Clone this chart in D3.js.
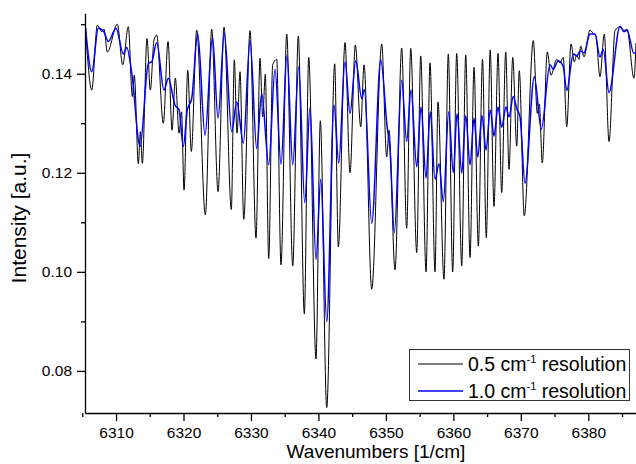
<!DOCTYPE html>
<html><head><meta charset="utf-8">
<script src="https://cdn.jsdelivr.net/npm/d3@7/dist/d3.min.js"></script>
<style>
html,body{margin:0;padding:0;background:#fff;}
svg{display:block;font-family:"Liberation Sans",Arial,sans-serif;}
</style></head>
<body><svg id="c" width="636" height="464"></svg>
<script>
// ---- data ----
const waveBlack = [6305.48,6306.40,6307.23,6307.88,6308.22,6308.71,6310.19,6310.99,6311.82,6312.42,6312.71,6313.31,6313.60,6313.90,6314.59,6315.08,6315.63,6316.03,6317.01,6317.71,6318.30,6318.79,6319.34,6319.71,6320.08,6320.63,6321.16,6321.96,6323.24,6324.18,6325.12,6326.01,6327.09,6327.53,6327.93,6328.38,6328.93,6329.86,6330.75,6331.34,6331.74,6332.13,6332.63,6333.22,6333.82,6334.45,6335.30,6336.19,6337.02,6337.91,6338.56,6339.64,6340.28,6341.23,6342.41,6342.95,6343.94,6344.68,6345.47,6346.27,6346.76,6347.90,6349.38,6350.12,6350.46,6351.35,6352.34,6353.08,6353.68,6354.57,6355.16,6355.95,6356.54,6357.28,6357.72,6358.61,6359.25,6359.90,6360.49,6361.24,6361.83,6362.47,6363.06,6363.70,6364.32,6364.88,6365.46,6366.02,6366.62,6367.16,6367.76,6368.25,6368.80,6369.39,6369.77,6370.51,6371.85,6372.44,6372.74,6373.18,6373.92,6374.47,6375.32,6375.80,6376.29,6376.80,6377.44,6377.93,6378.28,6378.62,6378.87,6379.36,6380.25,6380.70,6381.14,6381.73,6382.37,6383.07,6383.96,6384.70,6385.29,6385.74,6386.77,6387.07];
const intBlack = [0.1494,0.1367,0.1498,0.1485,0.1490,0.1444,0.1500,0.1418,0.1495,0.1354,0.1397,0.1218,0.1283,0.1219,0.1471,0.1367,0.1468,0.1478,0.1300,0.1465,0.1286,0.1391,0.1280,0.1323,0.1165,0.1407,0.1243,0.1488,0.1115,0.1490,0.1162,0.1494,0.1126,0.1428,0.1280,0.1404,0.1106,0.1487,0.1068,0.1431,0.1313,0.1399,0.1027,0.1418,0.1429,0.1014,0.1480,0.1012,0.1476,0.0915,0.1433,0.0824,0.1305,0.0726,0.1420,0.1050,0.1463,0.1200,0.1458,0.1293,0.1418,0.0965,0.1460,0.1232,0.1286,0.1004,0.1452,0.1088,0.1451,0.1039,0.1436,0.1000,0.1422,0.1000,0.1343,0.0985,0.1440,0.1000,0.1441,0.1012,0.1438,0.1029,0.1413,0.1052,0.1429,0.1069,0.1448,0.1132,0.1441,0.1160,0.1444,0.1207,0.1433,0.1254,0.1406,0.1113,0.1467,0.1320,0.1339,0.1220,0.1444,0.1397,0.1429,0.1422,0.1433,0.1293,0.1460,0.1424,0.1438,0.1429,0.1456,0.1434,0.1488,0.1482,0.1476,0.1394,0.1480,0.1263,0.1487,0.1495,0.1487,0.1490,0.1391,0.1462];
const waveBlue = [6305.48,6306.40,6307.38,6308.22,6308.86,6310.00,6311.08,6311.59,6312.37,6313.56,6314.79,6315.29,6316.03,6317.11,6317.75,6318.74,6319.34,6319.97,6320.57,6321.22,6322.11,6323.19,6324.30,6325.12,6326.05,6327.15,6327.89,6328.87,6329.86,6330.85,6331.59,6332.63,6333.57,6334.45,6335.34,6336.19,6337.08,6337.97,6338.75,6339.64,6340.34,6341.23,6342.31,6343.01,6343.94,6344.68,6345.53,6346.42,6346.80,6347.90,6349.23,6350.16,6350.61,6351.25,6352.34,6353.08,6353.72,6354.57,6355.20,6355.95,6356.58,6357.28,6357.87,6358.51,6359.31,6359.99,6360.54,6361.24,6361.83,6362.47,6363.06,6363.61,6364.24,6364.84,6365.47,6366.02,6366.62,6367.16,6367.80,6368.25,6368.88,6369.39,6369.88,6370.62,6372.00,6373.03,6374.32,6374.81,6375.55,6376.29,6376.80,6377.78,6378.32,6378.77,6379.36,6380.25,6380.99,6381.73,6382.22,6383.07,6384.70,6385.29,6385.74,6386.77,6387.07];
const intBlue = [0.1492,0.1404,0.1492,0.1484,0.1465,0.1492,0.1440,0.1453,0.1397,0.1253,0.1421,0.1424,0.1463,0.1367,0.1391,0.1337,0.1327,0.1253,0.1327,0.1350,0.1481,0.1276,0.1474,0.1310,0.1481,0.1283,0.1343,0.1260,0.1467,0.1249,0.1360,0.1216,0.1409,0.1217,0.1438,0.1216,0.1414,0.1140,0.1332,0.1025,0.1187,0.0899,0.1337,0.1220,0.1424,0.1320,0.1426,0.1350,0.1368,0.1098,0.1428,0.1296,0.1246,0.1079,0.1387,0.1263,0.1367,0.1212,0.1333,0.1189,0.1323,0.1187,0.1218,0.1142,0.1323,0.1200,0.1319,0.1199,0.1315,0.1216,0.1310,0.1232,0.1315,0.1246,0.1327,0.1274,0.1333,0.1292,0.1333,0.1313,0.1354,0.1330,0.1313,0.1179,0.1394,0.1288,0.1418,0.1409,0.1426,0.1414,0.1366,0.1440,0.1436,0.1446,0.1442,0.1480,0.1480,0.1434,0.1449,0.1362,0.1496,0.1485,0.1488,0.1441,0.1444];
const xTicks = [6310,6320,6330,6340,6350,6360,6370,6380];
const xMinor = [6305,6315,6325,6335,6345,6355,6365,6375,6385];
const yTicks = [0.08,0.10,0.12,0.14];
const yMinor = [0.09,0.11,0.13,0.15];
const legendLabels = ["0.5","1.0"];
const seriesColors = ["#000000","#0000ff"];

// ---- layout ----
const L=85, R=636, T=13.3, B=413;
const x = d3.scaleLinear().domain([6305.4,6387.07]).range([L,R]);
const y = d3.scaleLinear().domain([0.0715,0.1522]).range([B,T]);
const svg = d3.select("#c");

svg.append("defs").append("clipPath").attr("id","clip")
  .append("rect").attr("x",L).attr("y",0).attr("width",R-L).attr("height",B);

const line = d3.line().x(d=>x(d[0])).y(d=>y(d[1])).curve(d3.curveMonotoneX);
const black = waveBlack.map((w,i)=>[w,intBlack[i]]);
const blue = waveBlue.map((w,i)=>[w,intBlue[i]]);
const g = svg.append("g").attr("clip-path","url(#clip)");
g.append("path").datum(black).attr("d",line).attr("fill","none").attr("stroke",seriesColors[0]).attr("stroke-width",1);
g.append("path").datum(blue).attr("d",line).attr("fill","none").attr("stroke",seriesColors[1]).attr("stroke-width",1.5);

// axes
svg.append("g").attr("transform",`translate(0,${B})`)
  .call(d3.axisBottom(x).tickValues(xTicks).tickFormat(d3.format("d")).tickSize(8).tickPadding(6).tickSizeOuter(0));
svg.append("g").attr("transform",`translate(0,${B})`)
  .call(d3.axisBottom(x).tickValues(xMinor).tickFormat("").tickSize(4).tickSizeOuter(0))
  .select(".domain").remove();
svg.append("g").attr("transform",`translate(${L},0)`)
  .call(d3.axisLeft(y).tickValues(yTicks).tickFormat(d3.format(".2f")).tickSize(8).tickPadding(5).tickSizeOuter(0));
svg.append("g").attr("transform",`translate(${L},0)`)
  .call(d3.axisLeft(y).tickValues(yMinor).tickFormat("").tickSize(4).tickSizeOuter(0))
  .select(".domain").remove();
svg.selectAll(".domain").attr("stroke","#000").attr("stroke-width",1.3);
svg.selectAll(".tick line").attr("stroke","#000").attr("stroke-width",1.3);
svg.selectAll(".tick text").attr("font-size",15.5).attr("fill","#000").attr("font-family","'Liberation Sans',Arial,sans-serif");

// titles
svg.append("text").attr("x",376).attr("y",458).attr("text-anchor","middle")
  .attr("font-size",19).text("Wavenumbers [1/cm]");
svg.append("text").attr("transform",`translate(26,218) rotate(-90)`).attr("text-anchor","middle")
  .attr("font-size",21).text("Intensity [a.u.]");

// legend
const lg = svg.append("g");
lg.append("rect").attr("x",409.5).attr("y",349.5).attr("width",220).attr("height",51)
  .attr("fill","#fff").attr("stroke","#333").attr("stroke-width",1);
legendLabels.forEach((lab,i)=>{
  const yy = 364 + i*27;
  lg.append("line").attr("x1",418).attr("x2",463).attr("y1",yy).attr("y2",yy)
    .attr("stroke",seriesColors[i]).attr("stroke-width",i?1.5:1);
  const t = lg.append("text").attr("x",468).attr("y",yy+6.5).attr("font-size",19.5);
  t.append("tspan").text(lab+" cm");
  t.append("tspan").attr("font-size",11).attr("dy",-8).text("-1");
  t.append("tspan").attr("dy",8).text(" resolution");
});
</script></body></html>
